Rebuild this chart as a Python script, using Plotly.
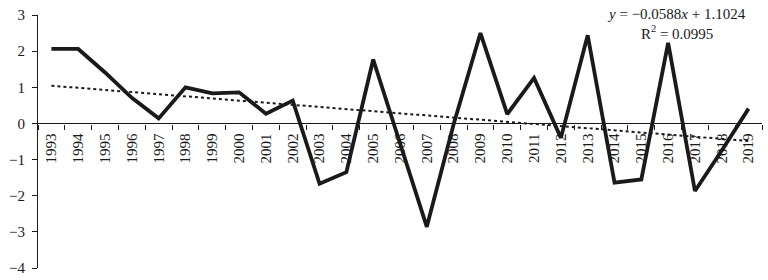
import plotly.graph_objects as go

years = [str(y) for y in range(1993, 2020)]
values = [2.06, 2.06, 1.41, 0.71, 0.14, 1.00, 0.83, 0.86, 0.27, 0.63,
          -1.67, -1.35, 1.77, -0.55, -2.86, -0.02, 2.50, 0.26, 1.26, -0.40,
          2.44, -1.64, -1.55, 2.23, -1.87, -0.75, 0.41]
slope = -0.0588
intercept = 1.1024
r2 = 0.0995
trend = [slope * (i + 1) + intercept for i in range(len(years))]

font_family = "Liberation Serif"

fig = go.Figure()
fig.add_trace(go.Scatter(x=years, y=values, mode="lines",
                         line=dict(color="#1a1a1a", width=3.8), showlegend=False))
fig.add_trace(go.Scatter(x=years, y=trend, mode="lines",
                         line=dict(color="#1a1a1a", width=2, dash="dot"), showlegend=False))

ymin, ymax = -4, 3
fig.update_layout(
    width=768, height=280,
    margin=dict(l=38, r=6, t=15, b=12),
    plot_bgcolor="white", paper_bgcolor="white",
    font=dict(family=font_family, size=13, color="#1a1a1a"),
    xaxis=dict(type="category", range=[-0.5, len(years) - 0.5],
               anchor="free", position=(0 - ymin) / (ymax - ymin), automargin=False,
               showline=True, linecolor="#1a1a1a", linewidth=1.2,
               ticks="outside", ticklen=5, tickcolor="#1a1a1a", tickson="boundaries",
               tickangle=-90, showgrid=False, zeroline=False, ticklabelstandoff=3,
               tickfont=dict(family=font_family, size=15)),
    yaxis=dict(range=[ymin, ymax], dtick=1, showline=True, linecolor="#1a1a1a",
               automargin=False,
               linewidth=1.2, ticks="outside", ticklen=5, tickcolor="#1a1a1a",
               showgrid=False, zeroline=False, ticklabelstandoff=4,
               tickfont=dict(family=font_family, size=15)),
    annotations=[
        dict(xref="paper", yref="paper", x=0.882, y=1.045, xanchor="center", yanchor="top",
             showarrow=False,
             text=f"<i>y</i> = −{abs(slope):.4f}<i>x</i> + {intercept:.4f}<br>R<sup>2</sup> = {r2:.4f}",
             font=dict(family=font_family, size=15, color="#1a1a1a")),
    ],
)

fig.write_html("out.html", config={"displayModeBar": False},
               post_script="document.body.style.margin='0';")
